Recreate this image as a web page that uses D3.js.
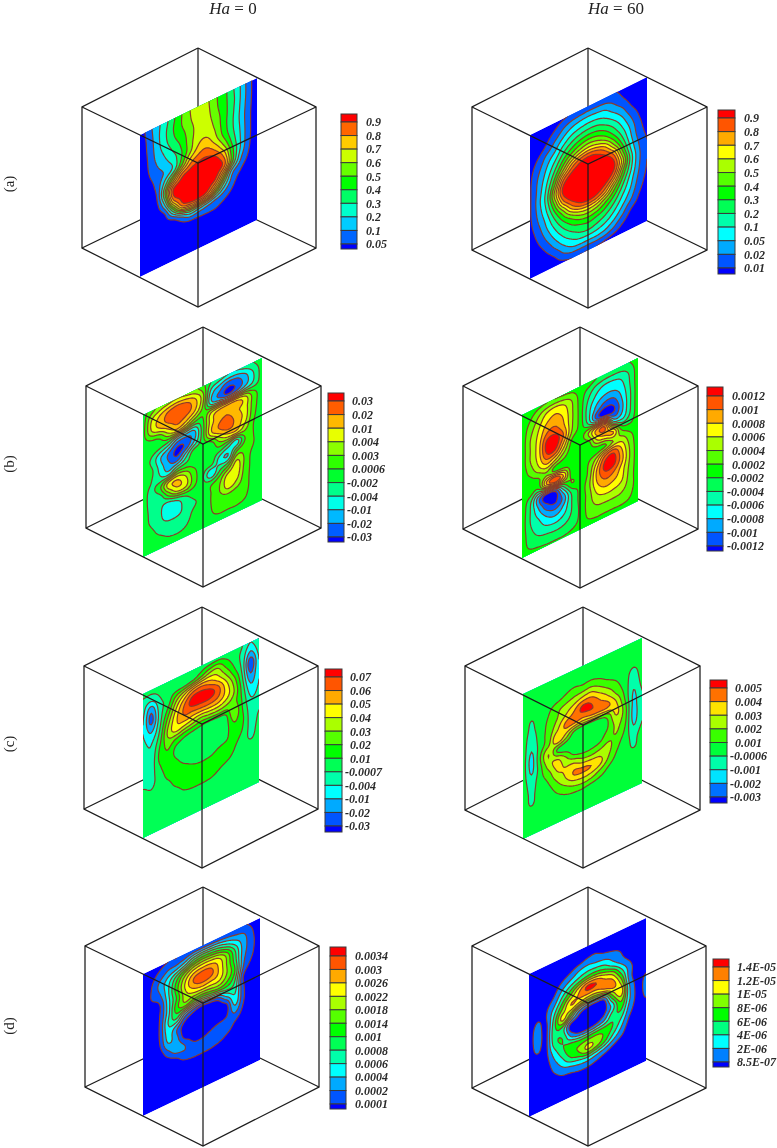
<!DOCTYPE html>
<html lang="en">
<head>
  <meta charset="UTF-8" />
  <title>Contour slices, Ha = 0 and Ha = 60</title>
  <script src="https://d3js.org/d3.v7.min.js"></script>
  <style>
    html, body { margin: 0; background: #fff; }
    svg { display: block; filter: blur(0.35px); }
    .bar-label text { font: italic bold 12px "Liberation Serif"; fill: #2a2a2a; }
    .head { font: 17px "Liberation Serif"; fill: #222; }
    .row-label { font: 15px "Liberation Serif"; fill: #222; }
  </style>
</head>
<body>
  <svg id="chart" width="777" height="1148"></svg>

  <script>
    // legend labels per panel, top to bottom
    const labelsA0 = ["0.9", "0.8", "0.7", "0.6", "0.5", "0.4", "0.3", "0.2", "0.1", "0.05"];
    const labelsA60 = ["0.9", "0.8", "0.7", "0.6", "0.5", "0.4", "0.3", "0.2", "0.1", "0.05", "0.02", "0.01"];
    const labelsB0 = ["0.03", "0.02", "0.01", "0.004", "0.003", "0.0006", "-0.002", "-0.004", "-0.01", "-0.02", "-0.03"];
    const labelsB60 = ["0.0012", "0.001", "0.0008", "0.0006", "0.0004", "0.0002", "-0.0002", "-0.0004", "-0.0006", "-0.0008", "-0.001", "-0.0012"];
    const labelsC0 = ["0.07", "0.06", "0.05", "0.04", "0.03", "0.02", "0.01", "-0.0007", "-0.004", "-0.01", "-0.02", "-0.03"];
    const labelsC60 = ["0.005", "0.004", "0.003", "0.002", "0.001", "-0.0006", "-0.001", "-0.002", "-0.003"];
    const labelsD0 = ["0.0034", "0.003", "0.0026", "0.0022", "0.0018", "0.0014", "0.001", "0.0008", "0.0006", "0.0004", "0.0002", "0.0001"];
    const labelsD60 = ["1.4E-05", "1.2E-05", "1E-05", "8E-06", "6E-06", "4E-06", "2E-06", "8.5E-07"];

    // fields on a 15x15 grid over each slice,
    // value = legend band the sample falls in (0 = lowest band), with a fraction
    const fieldA0 = [
      [.4,1.5,2.6,3.6,4.8,6,7,7.3,7.2,6.2,5.4,4.3,3,1.5,.3],
      [.4,1.3,2.6,3.8,5,6,6.9,7.4,7.3,6.3,5.4,4.4,3,1.5,.3],
      [.4,1.2,2.5,3.7,4.8,5.6,6.6,7.4,7.4,6.6,5.5,4.3,2.9,1.4,.3],
      [.3,1.1,2.3,3.2,4.2,5.2,6.6,7.6,7.7,6.9,5.5,4.2,2.8,1.3,.3],
      [.3,1,1.9,2.7,3.5,5,6.8,8.2,8.5,7.4,5.8,4.3,2.9,1.3,.3],
      [.2,.8,1.4,2.2,3.4,6,8.5,9.4,9.6,8.8,7,4.8,3,1.3,.3],
      [.1,.5,1.3,3.5,6.5,9.5,10.4,10.7,10.7,10.4,8.8,5.5,3,1.2,.2],
      [.1,.3,1,5,10.1,10.9,11,11,11,10.8,9.6,5.4,2.3,.9,.2],
      [.1,.2,.6,3.4,9,10.5,10.9,11,10.9,10,6.4,2.5,1.2,.5,.1],
      [.1,.1,.3,1.1,4.8,9,10.1,10.3,9.4,6.5,3.5,1.5,.6,.2,.1],
      [.1,.1,.1,.5,.9,2.4,3.8,3.4,2.8,2,1.4,.8,.3,.1,.1],
      [.1,.1,.1,.1,.3,.5,.7,.8,.9,.9,.7,.4,.1,.1,.1],
      [.1,.1,.1,.1,.1,.1,.2,.2,.2,.2,.1,.1,.1,.1,.1],
      [.1,.1,.1,.1,.1,.1,.1,.1,.1,.1,.1,.1,.1,.1,.1],
      [.1,.1,.1,.1,.1,.1,.1,.1,.1,.1,.1,.1,.1,.1,.1]
    ];
    const fieldA60 = [
      [.3,.4,.5,.6,.9,1.1,1.2,1.3,1.3,1.2,1.1,.8,.5,.4,.3],
      [.4,.5,.7,1.2,2,2.6,2.9,3,2.9,2.7,2,1.2,.6,.4,.3],
      [.4,.6,1.2,2.2,3.2,4,4.4,4.6,4.5,4,3.2,2.3,1.1,.5,.4],
      [.6,1.2,2.3,3.2,4.5,5.5,6.2,6.5,6.3,5.6,4.6,3.4,2,.9,.4],
      [.8,1.8,3,4.3,6,7.5,8.5,9,8.6,7.6,6,4.4,2.8,1.3,.6],
      [.9,2.2,3.6,5.5,8,10.5,11.8,12.2,11.8,10.6,8.2,5.6,3.3,1.6,.8],
      [.9,2.4,4.2,7,11,12.6,13,13,13,12.7,11.2,7.3,4,2,1],
      [.9,2.6,4.6,8.5,12.4,13,13,13,13,13,12.4,8.8,4.8,2.3,1.1],
      [.9,2.4,4.2,7.2,11,12.7,13,13,13,12.7,11,7.2,4.4,2.2,1],
      [.8,2,3.5,5.6,8,10.6,12,12.4,12,10.6,8,5.6,3.6,1.9,.9],
      [.6,1.5,2.9,4.4,6,7.4,8.6,9,8.6,7.4,6,4.4,3,1.5,.7],
      [.4,1,2.1,3.4,4.6,5.6,6.2,6.5,6.2,5.6,4.6,3.4,2.2,1,.5],
      [.3,.5,1.2,2.3,3.4,4.2,4.8,5,4.7,4.2,3.4,2.3,1.1,.6,.4],
      [.2,.3,.5,1.1,2.1,2.8,3,3,3,2.7,2,1.1,.5,.3,.2],
      [.2,.2,.3,.5,.8,1,1,1,1,.8,.5,.3,.2,.2,.2]
    ];
    const fieldB0 = [
      [5.6,6.6,7.4,7.8,8,7.8,7.4,6.4,5,4.4,4,4,4.4,5,5.5],
      [5.6,8,9.2,10.2,10.8,10.4,9.4,7.5,3.6,2.4,1.4,1.6,2.6,4,5.4],
      [5.7,8,9.2,10,10.4,10.2,9.2,7,3.4,2.2,1.2,1.9,3.1,4.2,5.4],
      [5.6,5.9,6.3,8,9,8,6.5,6,8,8.8,9,9,8.2,6.4,5.5],
      [5.5,5.5,5.2,4.6,3,2.6,2.8,5.5,8.5,9.7,10,9.2,8.5,6.5,5.5],
      [5.5,4.8,3.2,2,.8,1.2,3,5.5,8.7,10,10.6,9.6,8.5,6.3,5.5],
      [5.5,5.2,3.6,2.2,1.6,3.5,5.5,5.5,5.6,7.5,8.6,8.8,7.5,6,5.5],
      [5.5,5,4.2,3.6,5.2,5.5,5.5,5.5,5.5,5.5,4.6,3.5,6,6,5.5],
      [5.4,4.8,5.8,8.4,9,8,6.3,5.5,5.4,3.6,3,6,6.6,6,5.5],
      [5.4,4.6,4.5,6.5,8.4,8.2,6.4,5.2,3.2,4.8,5.9,8.2,6.8,5.6,5.5],
      [5.4,4.7,4.2,3.5,4.1,5,5.5,5.5,5.8,6.6,8.4,8.6,6.6,5.7,5.5],
      [5.4,4.8,4.2,3.4,3.5,4.4,4.9,5.3,6,7,8.4,7.8,6.4,5.7,5.5],
      [5.5,5.2,4.6,4.4,4.4,4.6,5.2,5.5,6,6.4,6.6,6.4,6.2,5.7,5.5],
      [5.5,5.5,5.2,4.9,4.8,5,5.4,5.5,5.9,6.2,6.2,6.2,6,5.6,5.5],
      [5.5,5.5,5.5,5.5,5.5,5.5,5.5,5.5,5.5,5.5,5.5,5.5,5.5,5.5,5.5]
    ];
    const fieldB60 = [
      [6.5,6.5,6.8,7,7,6.9,6.8,6.5,6.5,6,5.8,5.7,5.7,6,6.5],
      [6.5,7,8,9,9.4,9,8,6.6,5.5,4.5,4,4,4.3,5.2,6.5],
      [6.5,7.6,8.8,10,10.4,9.8,8.2,6.6,4.8,3.6,3,3,3.6,5,6.5],
      [6.5,8,9.3,11,11.3,10.2,8.2,6.6,4.4,2.6,1.6,1.6,3,4.8,6.5],
      [6.5,8,9.6,12.3,12.6,11,8,6.6,4.8,2,.5,.8,2.6,4.8,6.5],
      [6.5,8,9.5,12,12,9.5,6.8,6.5,8,10,10.5,4,3.5,5,6.5],
      [6.5,7.4,8.8,10,9,7.5,6.5,6.5,6.5,9,10,10,6.5,6,6.5],
      [6.5,6.6,7,7.8,6.6,6.5,6.5,6.5,6.5,6.5,6.8,8,8.3,7.2,6.5],
      [6.5,6.5,6.2,10,12,10,6.5,6.5,7,8.5,11,11.8,10,7.8,6.5],
      [6.5,5.2,2.4,.6,1.4,5,7,6.5,7.2,10,12.3,12.4,10.5,8,6.5],
      [6.5,5,3,1.2,.8,2.4,5.2,6.3,7.6,10,11.3,11,9.6,7.8,6.5],
      [6.5,5,4,2.8,2.3,3.2,5,6.3,7.4,9.2,10,9.8,9.2,7.6,6.5],
      [6.5,5.3,4.6,4,3.8,4.2,5.1,6.2,7.4,8.3,8.6,8.6,8.3,7.5,6.5],
      [6.5,5.6,5.3,5.2,5.1,5.2,5.6,6.2,7.2,7.5,7.5,7.5,7.5,7.1,6.5],
      [6.5,6.3,6.2,6.1,6.1,6.1,6.2,6.4,6.6,6.7,6.7,6.7,6.7,6.7,6.5]
    ];
    const fieldC0 = [
      [5.5,5.4,5.5,5.5,5.5,5.5,5.5,5.5,5.5,5.6,5.6,5.5,5,4,5],
      [4.5,4.2,5,5.5,5.5,5.5,5.9,6.8,7.8,8,6.6,5.6,4.6,2.8,4.4],
      [4.2,2.3,4.5,5.5,7.5,9,10.5,11,10.5,9.5,8,6.3,4.6,1.3,4],
      [4,1.7,4.4,6.5,9,11,12.5,12.6,12.5,11.5,9.5,7.5,5,2,4],
      [4,2.8,4.8,7.6,9.8,11,11,11.2,11.2,10.8,9.6,8,5.5,3,4],
      [4.2,3.8,5.4,8.2,9.4,9,8.5,8,8.3,8.4,8,7.4,5.8,3.8,4.2],
      [4.4,4.2,6,7.4,6.8,6.2,5.9,5.7,5.5,5.6,5.9,7.8,6,4.4,4.6],
      [4.6,4.4,6.2,6.8,5.7,5.5,5.5,5.5,5.5,5.5,5.6,7,6.2,4.6,5],
      [4.8,4.6,5.8,6.6,6.1,5.6,5.5,5.5,5.5,5.5,5.7,6.7,6,4.7,5.2],
      [4.9,4.8,5.4,6.3,6.5,6.2,5.9,5.7,5.8,6.1,6.3,6.2,5.6,4.8,5.4],
      [5.3,5.1,5.4,5.7,6.4,6.8,6.7,6.7,6.7,6.5,6.3,5.9,5.5,5.3,5.5],
      [5.5,5.5,5.5,5.4,5.7,6.2,6.4,6.4,6.3,6,5.7,5.5,5.5,5.5,5.5],
      [5.5,5.5,5.5,5.5,5.5,5.5,5.5,5.5,5.5,5.5,5.5,5.5,5.5,5.5,5.5],
      [5.5,5.5,5.5,5.5,5.5,5.5,5.5,5.5,5.5,5.5,5.5,5.5,5.5,5.5,5.5],
      [5.5,5.5,5.5,5.5,5.5,5.5,5.5,5.5,5.5,5.5,5.5,5.5,5.5,5.5,5.5]
    ];
    const fieldC60 = [
      [4.5,4.5,4.5,4.5,4.5,4.5,4.5,4.5,4.5,4.5,4.5,4.5,4.5,4.5,4.5],
      [4.5,4.5,4.5,4.5,4.5,4.5,4.5,4.5,4.5,4.5,4.5,4.5,4.5,4.5,4.5],
      [4.5,4.5,4.5,4.5,4.6,5,5.3,5.2,5.3,5,4.6,4.5,4.5,4.3,4.5],
      [4.5,4,4.5,4.9,5.7,6.1,6.5,7,7.2,6.4,5.6,5,4.5,3.6,4.5],
      [4.5,3.8,4.5,5.2,6,7,8,9.2,9,8,7,5.7,4.6,3.2,4.3],
      [4.5,3.4,4.5,5.4,6.8,8.2,8.4,8,8.4,8.5,8.2,7,4.9,2.9,4],
      [4.5,3,4.5,5.7,7.8,6.6,4.8,4.4,4.4,4.6,5.4,7.2,5.4,2.8,3.9],
      [4.5,2.7,4.9,7,4.9,4.3,4.3,4.3,4.3,4.4,5,6.3,5.3,2.7,3.9],
      [4.5,2.9,4.6,6.5,7.2,6,4.7,4.4,4.5,4.8,5.6,6,4.9,3,4],
      [4.5,3.5,4.6,5.5,7,7,7,6.2,6,6.2,6.3,5.4,4.5,3.7,4.4],
      [4.5,3.8,4.5,4.9,6,7,8.1,8.2,8,7.4,6,4.9,4.5,3.9,4.5],
      [4.5,3.9,4.5,4.5,5.1,5.7,6.3,6.6,6.4,5.7,4.9,4.5,4.5,4.5,4.5],
      [4.5,4.5,4.5,4.5,4.5,4.7,4.8,4.8,4.6,4.5,4.5,4.5,4.5,4.5,4.5],
      [4.5,4.5,4.5,4.5,4.5,4.5,4.5,4.5,4.5,4.5,4.5,4.5,4.5,4.5,4.5],
      [4.5,4.5,4.5,4.5,4.5,4.5,4.5,4.5,4.5,4.5,4.5,4.5,4.5,4.5,4.5]
    ];
    const fieldD0 = [
      [.2,.3,.7,1,1,1.1,1.2,1.2,1.2,1.2,1.2,1.2,1.1,.8,.2],
      [.2,.7,1.4,2.2,2.6,3.5,5,5.6,5.5,5,4,3,2.3,1.2,.3],
      [.2,1,2.3,3.6,5.5,7.5,9,9.5,9.5,9,7.5,5,2.6,1.4,.3],
      [.2,1,1.8,3.8,6.5,9,11,11.7,11.5,10,8,5.5,2.4,1.2,.2],
      [.1,.2,.9,3.5,6,8.5,9.5,10,9.8,9.5,8,6,2,.7,.1],
      [.1,.1,1,3.5,6.5,7.5,6.5,6,6.5,7,6.5,5,1,.2,.1],
      [.1,.1,1.1,4,5,2.6,1.4,.7,.9,1.5,3.5,4.2,1.2,.2,.1],
      [.1,.1,1.1,3.5,2.2,.5,.1,.1,.1,.1,.8,3.5,1.2,.1,.1],
      [.1,.1,.9,3,2.4,.5,.1,.1,.1,.3,.9,2.2,.8,.1,.1],
      [.1,.1,.3,1.6,2.6,2,1,.9,1.2,1.8,1.7,1,.3,.1,.1],
      [.1,.1,.1,.3,.8,1.6,1.7,1.7,1.6,1.4,.9,.4,.1,.1,.1],
      [.1,.1,.1,.1,.1,.2,.4,.4,.4,.2,.1,.1,.1,.1,.1],
      [.1,.1,.1,.1,.1,.1,.1,.1,.1,.1,.1,.1,.1,.1,.1],
      [.1,.1,.1,.1,.1,.1,.1,.1,.1,.1,.1,.1,.1,.1,.1],
      [.1,.1,.1,.1,.1,.1,.1,.1,.1,.1,.1,.1,.1,.1,.1]
    ];
    const fieldD60 = [
      [.3,.3,.3,.3,.3,.3,.3,.3,.3,.3,.3,.3,.3,.3,.3],
      [.3,.3,.3,.3,.3,.3,.4,.8,.9,.5,.3,.3,.3,.3,.3],
      [.3,.3,.3,.3,.7,1.2,1.9,2.2,2,1.8,1.4,.9,.4,.3,.3],
      [.3,.3,.3,.7,1.8,2.8,3.6,4.2,4.3,3.8,2.6,1.5,.7,.3,.3],
      [.3,.3,.7,1.5,3.3,5,6.8,8.2,8,7,6,3.5,1.5,.4,.3],
      [.3,.9,.9,2.7,5,7,6.5,6,6,7,7.5,5.5,1.6,.6,.8],
      [.3,1.5,.7,3.5,6.3,4.3,1.8,.9,.7,1.2,5,6.6,2.2,.7,1.25],
      [.3,1.6,.7,3.6,3.5,.6,.3,.3,.3,.6,2.5,5,2.2,.7,1.25],
      [.3,1.2,.7,3.4,4,1.8,.7,.6,.9,1.8,3.6,3.8,1.6,.6,.9],
      [.3,.3,.6,2.4,3.8,4.6,4.4,4.5,4.7,4.6,4,2.6,.9,.3,.3],
      [.3,.3,.4,1.6,2.8,4.2,5,6.2,5.6,4.4,2.8,1.5,.4,.3,.3],
      [.3,.3,.3,.9,1.6,2,2.4,2.6,2.2,1.6,.9,.4,.3,.3,.3],
      [.2,.2,.2,.2,.5,.6,.8,.8,.6,.3,.2,.2,.2,.2,.2],
      [.2,.2,.2,.2,.2,.2,.2,.2,.2,.2,.2,.2,.2,.2,.2],
      [.2,.2,.2,.2,.2,.2,.2,.2,.2,.2,.2,.2,.2,.2,.2]
    ];

    // page layout: cube corners, slice corners and legend box of each panel
    const panels = [
      { labels: labelsA0, field: fieldA0, cube: [198, 48, 82, 316, 107, 163, 248, 307], slice: [140, 257, 135, 78, 277], bar: [341, 357, 114, 249, 122, 244, 366] },
      { labels: labelsA60, field: fieldA60, cube: [588, 48, 472, 707, 107, 164, 250, 308], slice: [530, 647, 135, 77, 279], bar: [718, 735, 110, 274, 118, 268, 744] },
      { labels: labelsB0, field: fieldB0, cube: [203, 327, 86, 321, 386, 444, 528, 587], slice: [143, 262, 415, 358, 557], bar: [328, 344, 393, 542, 401, 537, 352] },
      { labels: labelsB60, field: fieldB60, cube: [580, 327, 463, 698, 386, 445, 529, 588], slice: [522, 638, 415, 358, 558], bar: [707, 723, 387, 551, 396, 546, 732] },
      { labels: labelsC0, field: fieldC0, cube: [202, 607, 84, 318, 666, 724, 809, 868], slice: [143, 259, 694, 638, 838], bar: [325, 342, 669, 832, 677, 826, 350] },
      { labels: labelsC60, field: fieldC60, cube: [583, 607, 465, 700, 666, 725, 810, 868], slice: [523, 642, 694, 638, 839], bar: [710, 727, 680, 803, 688, 797, 735] },
      { labels: labelsD0, field: fieldD0, cube: [203, 887, 85, 319, 946, 1003, 1087, 1146], slice: [143, 260, 974, 918, 1116], bar: [330, 346, 947, 1109, 956, 1104, 355] },
      { labels: labelsD60, field: fieldD60, cube: [588, 887, 472, 706, 946, 1003, 1088, 1146], slice: [529, 646, 974, 918, 1117], bar: [713, 729, 959, 1067, 967, 1062, 737] }
    ];

    const svg = d3.select("#chart");
    const lineColor = "#1c1c1c";
    const contourColor = "#8a3c2a";
    const upsample = 6;

    // blue-cyan-green-yellow-red ramp, same as the legend
    const rainbow = d3.scaleLinear()
      .domain([0, .25, .5, .75, 1])
      .range(["#0000ff", "#00ffff", "#00ff00", "#ffff00", "#ff0000"]);

    // Catmull-Rom so the coarse grid gives round contours
    function cubic(a, b, c, d, t) {
      return b + .5 * t * (c - a + t * (2 * a - 5 * b + 4 * c - d + t * (3 * (b - c) + d - a)));
    }

    function sampleField(field, x, y) {
      const n = field.length - 1, m = field[0].length - 1;
      const cl = (v, hi) => Math.max(0, Math.min(hi, v));
      const cx = cl(x, m), cy = cl(y, n);
      const ix = Math.min(Math.floor(cx), m - 1), iy = Math.min(Math.floor(cy), n - 1);
      const rows = [-1, 0, 1, 2].map(dy => {
        const row = field[cl(iy + dy, n)];
        return cubic(row[cl(ix - 1, m)], row[ix], row[ix + 1], row[cl(ix + 2, m)], cx - ix);
      });
      return cubic(rows[0], rows[1], rows[2], rows[3], cy - iy);
    }

    function drawCube(c) {
      const [tx, top, lx, rx, upper, front, lower, bot] = c;
      const back = top + bot - front;
      const seg = (parent, pts) => parent.append("path")
        .attr("d", d3.line()(pts))
        .attr("fill", "none")
        .attr("stroke", lineColor)
        .attr("stroke-width", 1.25);
      return {
        behind(parent) {
          seg(parent, [[tx, top], [tx, back]]);
          seg(parent, [[lx, lower], [tx, back], [rx, lower]]);
        },
        front(parent) {
          seg(parent, [[tx, top], [lx, upper], [lx, lower], [tx, bot], [rx, lower], [rx, upper], [tx, top]]);
          seg(parent, [[lx, upper], [tx, front], [rx, upper]]);
          seg(parent, [[tx, front], [tx, bot]]);
        }
      };
    }

    function drawSlice(g, p, index) {
      const [x0, x1, yTL, yTR, yBL] = p.slice;
      const field = p.field;
      const nBands = p.labels.length + 1;
      const steps = field[0].length - 1;
      const pad = 2;
      const w = steps * upsample + 1 + pad * 2;
      const h = (field.length - 1) * upsample + 1 + pad * 2;

      const values = new Array(w * h);
      for (let j = 0; j < h; j++) {
        for (let i = 0; i < w; i++) {
          values[j * w + i] = sampleField(field, (i - pad) / upsample, (j - pad) / upsample);
        }
      }

      // grid position -> page, the slice is a sheared rectangle
      const xScale = d3.scaleLinear().domain([pad + .5, w - pad - .5]).range([x0, x1]);
      const vScale = d3.scaleLinear().domain([pad + .5, h - pad - .5]).range([0, yBL - yTL]);
      const shear = d3.scaleLinear().domain([pad + .5, w - pad - .5]).range([yTL, yTR]);
      const path = d3.geoPath(d3.geoTransform({
        point(x, y) { this.stream.point(xScale(x), shear(x) + vScale(y)); }
      }));

      const clipId = "slice-" + index;
      const outline = [[x0, yTL], [x1, yTR], [x1, yTR + yBL - yTL], [x0, yBL]];
      g.append("clipPath").attr("id", clipId)
        .append("path").attr("d", d3.line()(outline) + "Z");

      const body = g.append("g").attr("clip-path", `url(#${clipId})`);
      body.append("path").attr("d", d3.line()(outline) + "Z").attr("fill", rainbow(0));

      const thresholds = d3.range(1, nBands);
      const contours = d3.contours().size([w, h]).thresholds(thresholds)(values);
      body.selectAll("path.band")
        .data(contours)
        .join("path")
        .attr("class", "band")
        .attr("d", path)
        .attr("fill", d => rainbow(d.value / (nBands - 1)));
      body.selectAll("path.iso")
        .data(contours)
        .join("path")
        .attr("class", "iso")
        .attr("d", path)
        .attr("fill", "none")
        .attr("stroke", contourColor)
        .attr("stroke-width", 1.2);
    }

    function drawLegend(g, p) {
      const [x0, x1, y0, y1, first, last, labelX] = p.bar;
      const y = d3.scalePoint().domain(p.labels).range([first, last]);
      const nBands = p.labels.length + 1;
      const edges = [y0, ...p.labels.map(l => y(l)), y1];

      g.selectAll("rect.swatch")
        .data(d3.range(nBands))
        .join("rect")
        .attr("class", "swatch")
        .attr("x", x0)
        .attr("width", x1 - x0)
        .attr("y", k => edges[k])
        .attr("height", k => edges[k + 1] - edges[k])
        .attr("fill", k => rainbow(1 - k / (nBands - 1)))
        .attr("stroke", "#3a3a3a")
        .attr("stroke-width", 1);

      const axis = g.append("g")
        .attr("class", "bar-label")
        .attr("transform", `translate(${labelX},0)`)
        .call(d3.axisRight(y).tickSize(0).tickPadding(0));
      axis.select(".domain").remove();
      axis.selectAll("text")
        .attr("x", d => d.startsWith("-") ? -5 : 0)
        .attr("dy", "0.32em");
    }

    panels.forEach((p, index) => {
      const g = svg.append("g");
      const cube = drawCube(p.cube);
      cube.behind(g);
      drawSlice(g, p, index);
      cube.front(g);
      drawLegend(g, p);
    });

    // column heads and row letters
    [["0", 233], ["60", 616]].forEach(([ha, cx]) => {
      const t = svg.append("text").attr("class", "head")
        .attr("x", cx).attr("y", 14).attr("text-anchor", "middle")
        .attr("xml:space", "preserve");
      t.append("tspan").attr("font-style", "italic").text("Ha");
      t.append("tspan").text(" = " + ha);
    });
    [["(a)", 184], ["(b)", 464], ["(c)", 744], ["(d)", 1026]].forEach(([txt, cy]) => {
      svg.append("text").attr("class", "row-label")
        .attr("text-anchor", "middle")
        .attr("transform", `translate(14,${cy}) rotate(-90)`)
        .text(txt);
    });
  </script>
</body>
</html>
